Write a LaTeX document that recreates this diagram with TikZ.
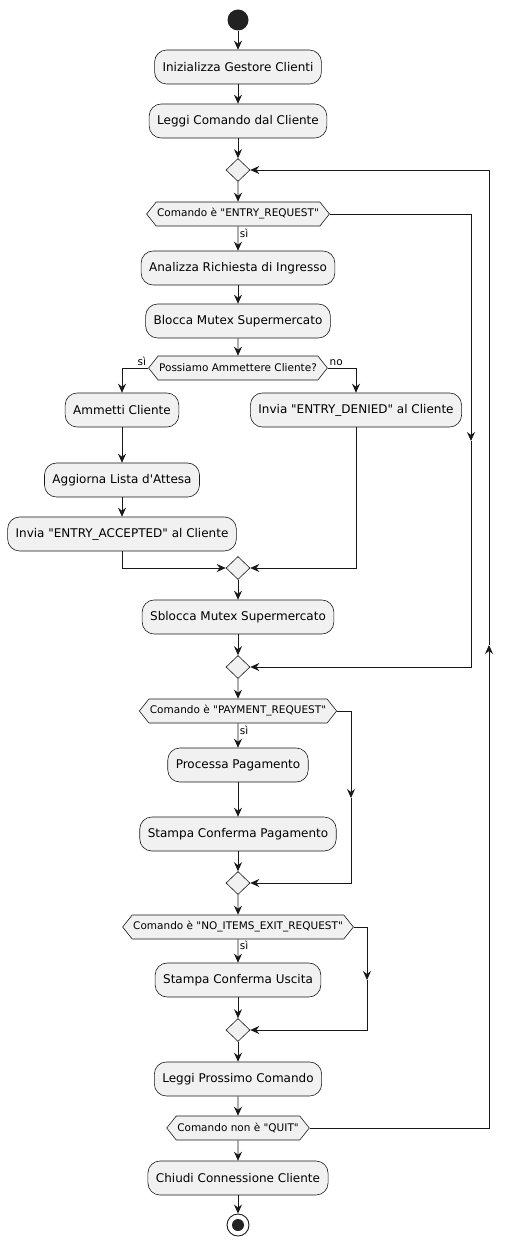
\documentclass[tikz,border=0pt]{standalone}
\usepackage{fontspec}
\newfontfamily\umlfont{DejaVu Sans}
\usetikzlibrary{arrows.meta,shapes.geometric,shapes.symbols}
\definecolor{boxfill}{HTML}{F1F1F1}
\definecolor{ink}{HTML}{181818}
\definecolor{dot}{HTML}{222222}
\tikzset{
	act/.style={draw=ink, fill=boxfill, line width=0.6pt, rounded corners=12pt, minimum height=34pt, inner xsep=8pt, font=\umlfont\fontsize{12}{14}\selectfont},
	cond/.style={draw=ink, fill=boxfill, line width=0.6pt, signal, signal to=east and west, signal pointer angle=103, minimum height=24pt, inner xsep=1pt, inner ysep=0pt, font=\umlfont\fontsize{10.5}{12}\selectfont},
	merge/.style={draw=ink, fill=boxfill, line width=0.6pt, diamond, minimum width=24pt, minimum height=23pt, inner sep=0pt},
	flow/.style={draw=ink, line width=0.9pt, -{Stealth[length=9pt,width=8pt,inset=3pt]}},
	lab/.style={font=\umlfont\fontsize{10.5}{12}\selectfont, inner sep=1.5pt}
}
\begin{document}
\begin{tikzpicture}[x=1pt, y=-1pt]
			%%%%% START %%%%%
			\useasboundingbox (0, 0) rectangle (514, 1246);
			
			\node[circle, fill=dot, minimum size=21pt, inner sep=0pt] (start) at (238, 20) {};
			\node[act] (init) at (238, 67) {Inizializza Gestore Clienti};
			\node[act] (read) at (238, 121) {Leggi Comando dal Cliente};
			\node[merge] (m1) at (238, 170) {};
			
			\node[cond] (q1) at (238, 214) {Comando è "ENTRY\_REQUEST"};
			\node[act] (analizza) at (238, 268) {Analizza Richiesta di Ingresso};
			\node[act] (blocca) at (238, 321) {Blocca Mutex Supermercato};
			\node[cond] (q2) at (238, 368) {Possiamo Ammettere Cliente?};
			
			\node[act] (ammetti) at (122, 410) {Ammetti Cliente};
			\node[act] (lista) at (122, 480) {Aggiorna Lista d'Attesa};
			\node[act] (accettato) at (122, 534) {Invia "ENTRY\_ACCEPTED" al Cliente};
			\node[act] (negato) at (356, 410) {Invia "ENTRY\_DENIED" al Cliente};
			
			\node[merge] (m3) at (238, 568) {};
			\node[act] (sblocca) at (238, 617) {Sblocca Mutex Supermercato};
			\node[merge] (m2) at (238, 667) {};
			
			\node[cond] (q3) at (238, 711) {Comando è "PAYMENT\_REQUEST"};
			\node[act] (processa) at (238, 765) {Processa Pagamento};
			\node[act] (stampapag) at (238, 834) {Stampa Conferma Pagamento};
			\node[merge] (m4) at (238, 883) {};
			
			\node[cond] (q4) at (238, 927) {Comando è "NO\_ITEMS\_EXIT\_REQUEST"};
			\node[act] (uscita) at (238, 980) {Stampa Conferma Uscita};
			\node[merge] (m5) at (238, 1030) {};
			
			\node[act] (prossimo) at (238, 1079) {Leggi Prossimo Comando};
			\node[cond] (q5) at (238, 1128) {Comando non è "QUIT"};
			\node[act] (chiudi) at (238, 1178) {Chiudi Connessione Cliente};
			\node[circle, draw=ink, fill=white, line width=0.9pt, minimum size=22pt, inner sep=0pt] (stop) at (238, 1225) {};
			\fill[dot] (stop) circle (6pt);
			
			\coordinate (r1) at (471, 441);
			\coordinate (r2) at (351, 798);
			\coordinate (r3) at (367, 980);
			\coordinate (back) at (489, 645);
			
			\draw[flow] (start) -- (init);
			\draw[flow] (init) -- (read);
			\draw[flow] (read) -- (m1);
			\draw[flow] (m1) -- (q1);
			\draw[flow] (q1) -- node[lab, pos=0.28, anchor=west] {sì} (analizza);
			\draw[flow] (q1.east) -| (r1);
			\draw[flow] (r1) |- (m2.east);
			\draw[flow] (analizza) -- (blocca);
			\draw[flow] (blocca) -- (q2);
			
			\draw[flow] (q2.west) -| node[lab, pos=0.12, anchor=south] {sì} (ammetti);
			\draw[flow] (q2.east) -| node[lab, pos=0.15, anchor=south] {no} (negato);
			\draw[flow] (ammetti) -- (lista);
			\draw[flow] (lista) -- (accettato);
			\draw[flow] (accettato) |- (m3.west);
			\draw[flow] (negato) |- (m3.east);
			\draw[flow] (m3) -- (sblocca);
			\draw[flow] (sblocca) -- (m2);
			
			\draw[flow] (m2) -- (q3);
			\draw[flow] (q3) -- node[lab, pos=0.28, anchor=west] {sì} (processa);
			\draw[flow] (q3.east) -| (r2);
			\draw[flow] (r2) |- (m4.east);
			\draw[flow] (processa) -- (stampapag);
			\draw[flow] (stampapag) -- (m4);
			
			\draw[flow] (m4) -- (q4);
			\draw[flow] (q4) -- node[lab, pos=0.28, anchor=west] {sì} (uscita);
			\draw[flow] (q4.east) -| (r3);
			\draw[flow] (r3) |- (m5.east);
			\draw[flow] (uscita) -- (m5);
			
			\draw[flow] (m5) -- (prossimo);
			\draw[flow] (prossimo) -- (q5);
			\draw[flow] (q5.east) -| (back);
			\draw[flow] (back) |- (m1.east);
			\draw[flow] (q5) -- (chiudi);
			\draw[flow] (chiudi) -- (stop);
			
			%%%%% END %%%%%
\end{tikzpicture}
\end{document}
